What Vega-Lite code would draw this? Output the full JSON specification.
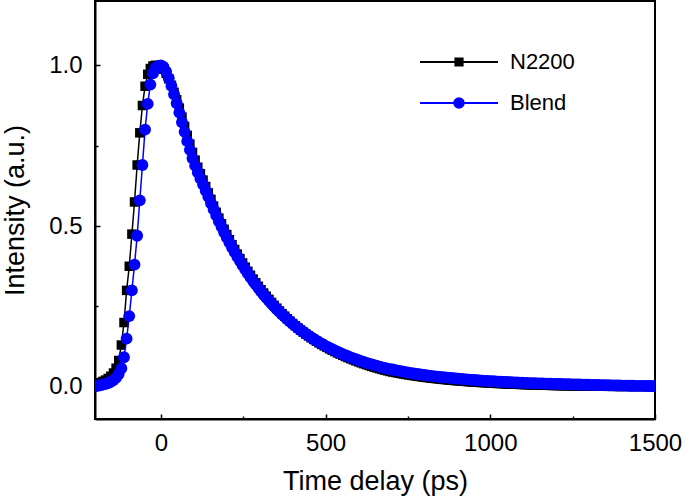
{
"$schema": "https://vega.github.io/schema/vega-lite/v6.json",
"width": 560, "height": 418,
"autosize": {"type": "none"},
"padding": {"left": 95, "top": 1, "right": 30, "bottom": 79},
"background": "white",
"config": {
  "view": {"stroke": "black", "strokeWidth": 2},
  "font": "Liberation Sans",
  "axis": {"grid": false, "domainColor": "black", "domainWidth": 2, "tickColor": "black", "tickWidth": 1.5, "labelColor": "black", "titleColor": "black", "labelFont": "Liberation Sans", "titleFont": "Liberation Sans", "labelFontSize": 24, "titleFontSize": 27, "titleFontWeight": "normal", "labelFlush": false, "labelOverlap": false}
},
"datasets": {
"n2200": [
{"t":-200,"I":0.008},{"t":-192,"I":0.010},{"t":-184,"I":0.013},{"t":-176,"I":0.017},{"t":-168,"I":0.021},{"t":-160,"I":0.026},{"t":-152,"I":0.033},{"t":-144,"I":0.043},{"t":-136,"I":0.058},{"t":-128,"I":0.082},{"t":-120,"I":0.130},{"t":-112,"I":0.200},{"t":-104,"I":0.300},{"t":-96,"I":0.375},{"t":-88,"I":0.475},{"t":-80,"I":0.575},{"t":-72,"I":0.690},{"t":-64,"I":0.790},{"t":-56,"I":0.875},{"t":-48,"I":0.935},{"t":-40,"I":0.972},{"t":-32,"I":0.990},{"t":-24,"I":0.998},{"t":-16,"I":1.000},{"t":-8,"I":0.999},
{"t":0,"I":0.995},{"t":8,"I":0.988},{"t":16,"I":0.975},{"t":24,"I":0.958},{"t":32,"I":0.938},{"t":40,"I":0.916},{"t":48,"I":0.893},{"t":56,"I":0.867},{"t":64,"I":0.839},{"t":72,"I":0.810},{"t":80,"I":0.782},{"t":88,"I":0.755},{"t":96,"I":0.729},{"t":104,"I":0.705},{"t":112,"I":0.683},{"t":120,"I":0.663},{"t":128,"I":0.643},{"t":136,"I":0.623},{"t":144,"I":0.603},{"t":152,"I":0.583},
{"t":160,"I":0.5619},{"t":168,"I":0.5429},{"t":176,"I":0.5247},{"t":184,"I":0.5070},{"t":192,"I":0.4899},{"t":200,"I":0.4735},{"t":208,"I":0.4575},{"t":216,"I":0.4421},{"t":224,"I":0.4272},{"t":232,"I":0.4129},{"t":240,"I":0.3990},{"t":248,"I":0.3853},{"t":256,"I":0.3721},{"t":264,"I":0.3593},{"t":272,"I":0.3470},{"t":280,"I":0.3350},{"t":288,"I":0.3237},{"t":296,"I":0.3127},{"t":304,"I":0.3021},{"t":312,"I":0.2918},{"t":320,"I":0.2819},{"t":328,"I":0.2721},{"t":336,"I":0.2626},{"t":344,"I":0.2535},{"t":352,"I":0.2446},{"t":360,"I":0.2360},{"t":368,"I":0.2277},{"t":376,"I":0.2197},{"t":384,"I":0.2119},{"t":392,"I":0.2044},{"t":400,"I":0.1971},{"t":408,"I":0.1901},{"t":416,"I":0.1833},{"t":424,"I":0.1767},{"t":432,"I":0.1703},{"t":440,"I":0.1641},{"t":448,"I":0.1583},{"t":456,"I":0.1527},{"t":464,"I":0.1473},{"t":472,"I":0.1420},{"t":480,"I":0.1369},{"t":488,"I":0.1320},{"t":496,"I":0.1273},{"t":504,"I":0.1227},{"t":512,"I":0.1182},{"t":520,"I":0.1139},{"t":528,"I":0.1098},{"t":536,"I":0.1057},{"t":544,"I":0.1018},{"t":552,"I":0.0981},{"t":560,"I":0.0944},{"t":568,"I":0.0909},{"t":576,"I":0.0875},{"t":584,"I":0.0841},{"t":592,"I":0.0809},{"t":600,"I":0.0778},{"t":608,"I":0.0748},{"t":616,"I":0.0719},{"t":624,"I":0.0691},{"t":632,"I":0.0664},{"t":640,"I":0.0637},{"t":648,"I":0.0613},{"t":656,"I":0.0588},{"t":664,"I":0.0564},{"t":672,"I":0.0541},{"t":680,"I":0.0520},{"t":688,"I":0.0499},{"t":696,"I":0.0478},
{"t":704,"I":0.0461},{"t":712,"I":0.0445},{"t":720,"I":0.0430},{"t":728,"I":0.0414},{"t":736,"I":0.0400},{"t":744,"I":0.0386},{"t":752,"I":0.0372},{"t":760,"I":0.0359},{"t":768,"I":0.0347},{"t":776,"I":0.0334},{"t":784,"I":0.0323},{"t":792,"I":0.0311},{"t":800,"I":0.0300},{"t":808,"I":0.0289},{"t":816,"I":0.0278},{"t":824,"I":0.0269},{"t":832,"I":0.0260},{"t":840,"I":0.0250},{"t":848,"I":0.0241},{"t":856,"I":0.0233},{"t":864,"I":0.0224},{"t":872,"I":0.0215},{"t":880,"I":0.0208},{"t":888,"I":0.0200},{"t":896,"I":0.0193},{"t":904,"I":0.0186},{"t":912,"I":0.0179},{"t":920,"I":0.0173},{"t":928,"I":0.0166},{"t":936,"I":0.0161},{"t":944,"I":0.0154},{"t":952,"I":0.0149},{"t":960,"I":0.0143},{"t":968,"I":0.0138},{"t":976,"I":0.0133},{"t":984,"I":0.0127},{"t":992,"I":0.0123},{"t":1000,"I":0.0118},
{"t":1008,"I":0.0114},{"t":1016,"I":0.0109},{"t":1024,"I":0.0105},{"t":1032,"I":0.0101},{"t":1040,"I":0.0097},{"t":1048,"I":0.0093},{"t":1056,"I":0.0089},{"t":1064,"I":0.0086},{"t":1072,"I":0.0082},{"t":1080,"I":0.0080},{"t":1088,"I":0.0076},{"t":1096,"I":0.0073},{"t":1104,"I":0.0070},{"t":1112,"I":0.0067},{"t":1120,"I":0.0064},{"t":1128,"I":0.0062},{"t":1136,"I":0.0059},{"t":1144,"I":0.0056},{"t":1152,"I":0.0054},{"t":1160,"I":0.0052},{"t":1168,"I":0.0050},{"t":1176,"I":0.0047},{"t":1184,"I":0.0045},{"t":1192,"I":0.0044},{"t":1200,"I":0.0041},{"t":1208,"I":0.0039},{"t":1216,"I":0.0037},{"t":1224,"I":0.0035},{"t":1232,"I":0.0034},{"t":1240,"I":0.0032},{"t":1248,"I":0.0031},{"t":1256,"I":0.0029},{"t":1264,"I":0.0027},{"t":1272,"I":0.0026},{"t":1280,"I":0.0025},{"t":1288,"I":0.0024},{"t":1296,"I":0.0022},{"t":1304,"I":0.0021},{"t":1312,"I":0.0020},{"t":1320,"I":0.0019},{"t":1328,"I":0.0019},{"t":1336,"I":0.0018},{"t":1344,"I":0.0018},{"t":1352,"I":0.0017},{"t":1360,"I":0.0017},{"t":1368,"I":0.0016},{"t":1376,"I":0.0016},{"t":1384,"I":0.0015},{"t":1392,"I":0.0015},{"t":1400,"I":0.0015},{"t":1408,"I":0.0014},{"t":1416,"I":0.0014},{"t":1424,"I":0.0014},{"t":1432,"I":0.0013},{"t":1440,"I":0.0013},{"t":1448,"I":0.0013},{"t":1456,"I":0.0012},{"t":1464,"I":0.0012},{"t":1472,"I":0.0012},{"t":1480,"I":0.0011},{"t":1488,"I":0.0011},{"t":1496,"I":0.0011}
],
"blend": [
{"t":-200,"I":0.002},{"t":-192,"I":0.003},{"t":-184,"I":0.005},{"t":-176,"I":0.007},{"t":-168,"I":0.009},{"t":-160,"I":0.012},{"t":-152,"I":0.016},{"t":-144,"I":0.021},{"t":-136,"I":0.028},{"t":-128,"I":0.040},{"t":-120,"I":0.058},{"t":-112,"I":0.092},{"t":-104,"I":0.150},{"t":-96,"I":0.220},{"t":-88,"I":0.300},{"t":-80,"I":0.380},{"t":-72,"I":0.470},{"t":-64,"I":0.580},{"t":-56,"I":0.690},{"t":-48,"I":0.800},{"t":-40,"I":0.880},{"t":-32,"I":0.940},{"t":-24,"I":0.975},{"t":-16,"I":0.992},{"t":-8,"I":0.998},
{"t":0,"I":1.000},{"t":8,"I":0.995},{"t":16,"I":0.980},{"t":24,"I":0.960},{"t":32,"I":0.936},{"t":40,"I":0.910},{"t":48,"I":0.882},{"t":56,"I":0.853},{"t":64,"I":0.823},{"t":72,"I":0.793},{"t":80,"I":0.764},{"t":88,"I":0.737},{"t":96,"I":0.711},{"t":104,"I":0.688},{"t":112,"I":0.667},{"t":120,"I":0.648},{"t":128,"I":0.629},{"t":136,"I":0.610},{"t":144,"I":0.591},{"t":152,"I":0.571},
{"t":160,"I":0.5519},{"t":168,"I":0.5331},{"t":176,"I":0.5151},{"t":184,"I":0.4976},{"t":192,"I":0.4807},{"t":200,"I":0.4645},{"t":208,"I":0.4487},{"t":216,"I":0.4335},{"t":224,"I":0.4188},{"t":232,"I":0.4047},{"t":240,"I":0.3910},{"t":248,"I":0.3777},{"t":256,"I":0.3649},{"t":264,"I":0.3525},{"t":272,"I":0.3406},{"t":280,"I":0.3290},{"t":288,"I":0.3179},{"t":296,"I":0.3071},{"t":304,"I":0.2967},{"t":312,"I":0.2866},{"t":320,"I":0.2769},{"t":328,"I":0.2675},{"t":336,"I":0.2584},{"t":344,"I":0.2497},{"t":352,"I":0.2412},{"t":360,"I":0.2330},{"t":368,"I":0.2251},{"t":376,"I":0.2175},{"t":384,"I":0.2101},{"t":392,"I":0.2030},{"t":400,"I":0.1961},{"t":408,"I":0.1895},{"t":416,"I":0.1831},{"t":424,"I":0.1769},{"t":432,"I":0.1709},{"t":440,"I":0.1651},{"t":448,"I":0.1595},{"t":456,"I":0.1541},{"t":464,"I":0.1489},{"t":472,"I":0.1438},{"t":480,"I":0.1389},{"t":488,"I":0.1342},{"t":496,"I":0.1297},{"t":504,"I":0.1253},{"t":512,"I":0.1210},{"t":520,"I":0.1169},{"t":528,"I":0.1130},{"t":536,"I":0.1091},{"t":544,"I":0.1054},{"t":552,"I":0.1019},{"t":560,"I":0.0984},{"t":568,"I":0.0951},{"t":576,"I":0.0919},{"t":584,"I":0.0887},{"t":592,"I":0.0857},{"t":600,"I":0.0828},{"t":608,"I":0.0800},{"t":616,"I":0.0773},{"t":624,"I":0.0747},{"t":632,"I":0.0722},{"t":640,"I":0.0697},{"t":648,"I":0.0674},{"t":656,"I":0.0651},{"t":664,"I":0.0629},{"t":672,"I":0.0607},{"t":680,"I":0.0587},{"t":688,"I":0.0567},{"t":696,"I":0.0548},
{"t":704,"I":0.0539},{"t":712,"I":0.0521},{"t":720,"I":0.0504},{"t":728,"I":0.0487},{"t":736,"I":0.0471},{"t":744,"I":0.0455},{"t":752,"I":0.0440},{"t":760,"I":0.0426},{"t":768,"I":0.0414},{"t":776,"I":0.0402},{"t":784,"I":0.0391},{"t":792,"I":0.0380},{"t":800,"I":0.0368},{"t":808,"I":0.0357},{"t":816,"I":0.0346},{"t":824,"I":0.0335},{"t":832,"I":0.0325},{"t":840,"I":0.0316},{"t":848,"I":0.0307},{"t":856,"I":0.0299},{"t":864,"I":0.0293},{"t":872,"I":0.0286},{"t":880,"I":0.0278},{"t":888,"I":0.0269},{"t":896,"I":0.0261},{"t":904,"I":0.0253},{"t":912,"I":0.0246},{"t":920,"I":0.0239},{"t":928,"I":0.0231},{"t":936,"I":0.0225},{"t":944,"I":0.0218},{"t":952,"I":0.0212},{"t":960,"I":0.0205},{"t":968,"I":0.0200},{"t":976,"I":0.0194},{"t":984,"I":0.0188},{"t":992,"I":0.0183},{"t":1000,"I":0.0178},
{"t":1008,"I":0.0173},{"t":1016,"I":0.0168},{"t":1024,"I":0.0163},{"t":1032,"I":0.0159},{"t":1040,"I":0.0154},{"t":1048,"I":0.0150},{"t":1056,"I":0.0146},{"t":1064,"I":0.0142},{"t":1072,"I":0.0138},{"t":1080,"I":0.0135},{"t":1088,"I":0.0131},{"t":1096,"I":0.0128},{"t":1104,"I":0.0124},{"t":1112,"I":0.0121},{"t":1120,"I":0.0118},{"t":1128,"I":0.0115},{"t":1136,"I":0.0112},{"t":1144,"I":0.0109},{"t":1152,"I":0.0107},{"t":1160,"I":0.0104},{"t":1168,"I":0.0102},{"t":1176,"I":0.0099},{"t":1184,"I":0.0097},{"t":1192,"I":0.0095},{"t":1200,"I":0.0092},{"t":1208,"I":0.0090},{"t":1216,"I":0.0088},{"t":1224,"I":0.0086},{"t":1232,"I":0.0084},{"t":1240,"I":0.0082},{"t":1248,"I":0.0079},{"t":1256,"I":0.0077},{"t":1264,"I":0.0074},{"t":1272,"I":0.0072},{"t":1280,"I":0.0070},{"t":1288,"I":0.0068},{"t":1296,"I":0.0065},{"t":1304,"I":0.0063},{"t":1312,"I":0.0061},{"t":1320,"I":0.0059},{"t":1328,"I":0.0057},{"t":1336,"I":0.0055},{"t":1344,"I":0.0053},{"t":1352,"I":0.0051},{"t":1360,"I":0.0049},{"t":1368,"I":0.0047},{"t":1376,"I":0.0045},{"t":1384,"I":0.0043},{"t":1392,"I":0.0041},{"t":1400,"I":0.0040},{"t":1408,"I":0.0038},{"t":1416,"I":0.0036},{"t":1424,"I":0.0035},{"t":1432,"I":0.0033},{"t":1440,"I":0.0032},{"t":1448,"I":0.0031},{"t":1456,"I":0.0030},{"t":1464,"I":0.0029},{"t":1472,"I":0.0028},{"t":1480,"I":0.0027},{"t":1488,"I":0.0026},{"t":1496,"I":0.0025}
]
},
"resolve": {"axis": {"x": "independent", "y": "independent"}},
"layer": [
  {"data": {"name": "n2200"},
   "mark": {"type": "line", "color": "black", "strokeWidth": 1.5, "clip": true},
   "encoding": {
     "x": {"field": "t", "type": "quantitative", "scale": {"domain": [-200, 1500], "nice": false, "zero": false},
           "axis": {"orient": "bottom", "values": [0, 500, 1000, 1500], "format": "d", "tickSize": -5, "labelPadding": 17, "title": "Time delay (ps)", "titlePadding": 13}},
     "y": {"field": "I", "type": "quantitative", "scale": {"domain": [-0.1, 1.2], "nice": false, "zero": false},
           "axis": {"orient": "left", "values": [0, 0.5, 1], "format": ".1f", "tickSize": -5, "labelPadding": 18, "title": "Intensity (a.u.)", "titlePadding": 19}}
   }},
  {"data": {"name": "n2200"},
   "mark": {"type": "point", "shape": "square", "filled": true, "color": "black", "size": 90, "opacity": 1, "clip": true},
   "encoding": {
     "x": {"field": "t", "type": "quantitative", "axis": null},
     "y": {"field": "I", "type": "quantitative", "axis": null}
   }},
  {"data": {"name": "blend"},
   "mark": {"type": "line", "color": "#0000ff", "strokeWidth": 1.5, "clip": true},
   "encoding": {
     "x": {"field": "t", "type": "quantitative",
           "axis": {"orient": "bottom", "values": [250, 750, 1250], "tickSize": -3, "labels": false, "domain": false, "title": null}},
     "y": {"field": "I", "type": "quantitative",
           "axis": {"orient": "left", "values": [0.25, 0.75], "tickSize": -3, "labels": false, "domain": false, "title": null}}
   }},
  {"data": {"name": "blend"},
   "mark": {"type": "point", "shape": "circle", "filled": true, "color": "#0000ff", "size": 140, "opacity": 1, "clip": true},
   "encoding": {
     "x": {"field": "t", "type": "quantitative", "axis": null},
     "y": {"field": "I", "type": "quantitative", "axis": null}
   }},
  {"data": {"values": [{"s": "N2200"}, {"s": "Blend"}]},
   "transform": [{"filter": "datum.s == 'none'"}],
   "mark": {"type": "point", "filled": false, "opacity": 1, "strokeWidth": 1.8},
   "encoding": {
     "color": {"field": "s", "type": "nominal", "scale": {"domain": ["N2200", "Blend"], "range": ["#000000", "#0000ff"]},
       "legend": {"title": null, "orient": "none", "legendX": 353, "legendY": 50, "padding": 0, "rowPadding": 19, "symbolSize": 380, "symbolStrokeWidth": 1.8, "labelFontSize": 22, "labelFont": "Liberation Sans", "labelColor": "black", "labelOffset": 40, "labelLimit": 0}},
     "shape": {"field": "s", "type": "nominal", "scale": {"domain": ["N2200", "Blend"], "range": ["M-4,0H4M-0.38,-0.38H0.38V0.38H-0.38ZM-0.38,-0.25H0.38M-0.38,-0.12H0.38M-0.38,0H0.38M-0.38,0.12H0.38M-0.38,0.25H0.38", "M-4,0H4M-0.5,0A0.5,0.5,0,1,1,0.5,0A0.5,0.5,0,1,1,-0.5,0ZM-0.37,0A0.37,0.37,0,1,1,0.37,0A0.37,0.37,0,1,1,-0.37,0ZM-0.24,0A0.24,0.24,0,1,1,0.24,0A0.24,0.24,0,1,1,-0.24,0ZM-0.12,0A0.12,0.12,0,1,1,0.12,0A0.12,0.12,0,1,1,-0.12,0Z"]},
       "legend": {"title": null, "orient": "none", "legendX": 353, "legendY": 50, "padding": 0, "rowPadding": 19, "symbolSize": 380, "symbolStrokeWidth": 1.8, "labelFontSize": 22, "labelFont": "Liberation Sans", "labelColor": "black", "labelOffset": 40, "labelLimit": 0}}
   }}
]
}
